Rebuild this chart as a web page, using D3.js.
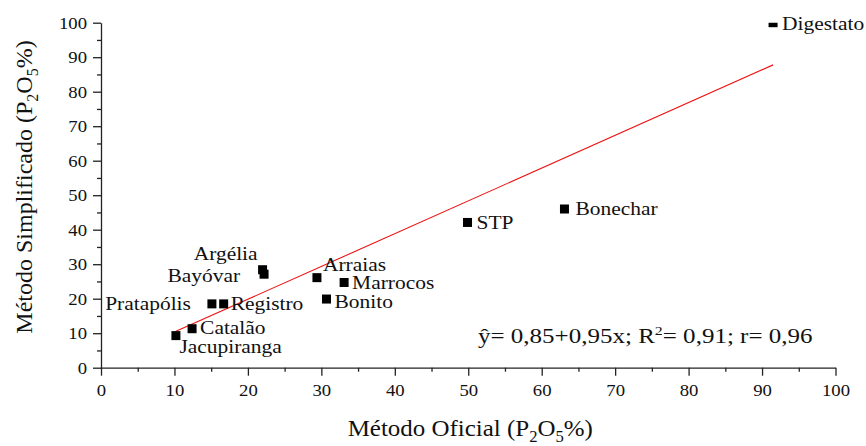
<!DOCTYPE html>
<html>
<head>
<meta charset="utf-8">
<script src="https://cdn.jsdelivr.net/npm/d3@7"></script>
<style>
  html, body { margin: 0; padding: 0; background: #fff; }
  svg { display: block; }
  text { font-family: "Liberation Serif", "Times New Roman", serif; fill: #111; }
</style>
</head>
<body>
<svg id="chart" width="866" height="446"></svg>
<script>
// Phosphate sources: official vs simplified method (P2O5 %)
const sources = ["Digestato", "Bonechar", "STP", "Arraias", "Marrocos", "Bonito",
                 "Argélia", "Bayóvar", "Registro", "Pratapólis", "Catalão", "Jacupiranga"];
const oficial = [91.5, 63.1, 49.9, 29.4, 33.1, 30.7, 22.0, 22.2, 16.7, 15.1, 12.4, 10.2];
const simplificado = [100, 46.0, 42.1, 26.1, 24.7, 19.9, 28.4, 27.1, 18.5, 18.5, 11.3, 9.3];

// Regression y = a + b x, drawn across the observed x range
const intercept = 0.85;
const slope = 0.95;
const r2 = 0.91;
const rCoef = 0.96;

const xTicks = [0, 10, 20, 30, 40, 50, 60, 70, 80, 90, 100];
const yTicks = [0, 10, 20, 30, 40, 50, 60, 70, 80, 90, 100];

// label placement around each marker: [anchor, dx, dy]
const labelPlace = {
  "Digestato":   ["start", 9, 1],
  "Bonechar":    ["start", 11, 0],
  "STP":         ["start", 9, 0],
  "Arraias":     ["start", 6, -13],
  "Marrocos":    ["start", 8, 0.5],
  "Bonito":      ["start", 8, 3],
  "Argélia":     ["end", -5, -16],
  "Bayóvar":     ["end", -24, 1],
  "Registro":    ["start", 7, 0],
  "Pratapólis":  ["end", -21, 0],
  "Catalão":     ["start", 8, -1.5],
  "Jacupiranga": ["start", 3.5, 11]
};

const svg = d3.select("#chart");
const pLeft = 101, pRight = 835.5, pTop = 22.7, pBottom = 367.7;
const x = d3.scaleLinear().domain([0, 100]).range([pLeft, pRight]);
const y = d3.scaleLinear().domain([0, 100]).range([pBottom, pTop]);

const SX = 1.1;           // slightly wide lettering
const axisColor = "#222";

// ---- axes ----
const minorX = d3.range(5, 100, 10);
const minorY = d3.range(5, 100, 10);

const gx = svg.append("g").attr("transform", `translate(0,${pBottom})`);
gx.call(d3.axisBottom(x).tickValues(xTicks).tickSize(8).tickSizeOuter(0).tickPadding(6)
  .tickFormat(d3.format("d")));
gx.append("g").call(d3.axisBottom(x).tickValues(minorX).tickSize(4).tickFormat(""))
  .select(".domain").remove();

const gy = svg.append("g").attr("transform", `translate(${pLeft},0)`);
gy.call(d3.axisLeft(y).tickValues(yTicks).tickSize(8).tickSizeOuter(0).tickPadding(6)
  .tickFormat(d3.format("d")));
gy.append("g").call(d3.axisLeft(y).tickValues(minorY).tickSize(4).tickFormat(""))
  .select(".domain").remove();

svg.selectAll(".domain, .tick line").attr("stroke", axisColor).attr("stroke-width", 1.3);
gx.selectAll(".tick text")
  .attr("font-family", "Liberation Serif").attr("font-size", 17).attr("fill", "#111")
  .attr("y", 0).attr("dy", 0)
  .attr("transform", `translate(0,28) scale(${SX},1)`);
gy.selectAll(".tick text")
  .attr("font-family", "Liberation Serif").attr("font-size", 17).attr("fill", "#111")
  .attr("x", 0).attr("dy", "0.34em")
  .attr("transform", `translate(-14,0) scale(${SX},1)`);

// ---- axis titles ----
const xt = svg.append("text")
  .attr("transform", `translate(${(pLeft + pRight) / 2 + 2},436) scale(1.04,1)`)
  .attr("text-anchor", "middle").attr("font-size", 24);
xt.append("tspan").text("Método Oficial (P");
xt.append("tspan").attr("font-size", 16).attr("dy", 6).text("2");
xt.append("tspan").attr("dy", -6).text("O");
xt.append("tspan").attr("font-size", 16).attr("dy", 6).text("5");
xt.append("tspan").attr("dy", -6).text("%)");

const yt = svg.append("text")
  .attr("transform", `translate(32,187) rotate(-90)`)
  .attr("text-anchor", "middle").attr("font-size", 24);
yt.append("tspan").text("Método Simplificado (P");
yt.append("tspan").attr("font-size", 16).attr("dy", 6).text("2");
yt.append("tspan").attr("dy", -6).text("O");
yt.append("tspan").attr("font-size", 16).attr("dy", 6).text("5");
yt.append("tspan").attr("dy", -6).text("%)");

// ---- regression line ----
const xMin = d3.min(oficial), xMax = d3.max(oficial);
svg.append("line")
  .attr("x1", x(xMin)).attr("y1", y(intercept + slope * xMin))
  .attr("x2", x(xMax)).attr("y2", y(intercept + slope * xMax))
  .attr("stroke", "#ee1111").attr("stroke-width", 1.1);

// ---- markers (clipped to the plot frame) ----
svg.append("clipPath").attr("id", "plotClip")
  .append("rect").attr("x", pLeft).attr("y", pTop)
  .attr("width", pRight - pLeft + 20).attr("height", pBottom - pTop);

const pts = sources.map((s, i) => ({ name: s, xv: oficial[i], yv: simplificado[i] }));
const M = 9;
svg.append("g").attr("clip-path", "url(#plotClip)")
  .selectAll("rect").data(pts).join("rect")
  .attr("x", d => x(d.xv) - M / 2).attr("y", d => y(d.yv) - M / 2)
  .attr("width", M).attr("height", M).attr("fill", "#000");

// ---- point labels ----
const LF = 19.5;
svg.append("g").selectAll("text").data(pts).join("text")
  .attr("font-size", LF)
  .attr("text-anchor", d => labelPlace[d.name][0])
  .attr("transform", d => {
    const p = labelPlace[d.name];
    return `translate(${x(d.xv) + p[1]},${y(d.yv) + p[2] + 0.33 * LF}) scale(${SX},1)`;
  })
  .text(d => d.name);

// ---- equation ----
const fmt = v => d3.format(".2f")(v).replace(".", ",");
const eq = svg.append("text")
  .attr("transform", `translate(478,342.7) scale(1.22,1)`)
  .attr("font-size", 20.5);
eq.append("tspan").text(`ŷ= ${fmt(intercept)}+${fmt(slope)}x; R`);
eq.append("tspan").attr("font-size", 13).attr("dy", -8).text("2");
eq.append("tspan").attr("dy", 8).text(`= ${fmt(r2)}; r= ${fmt(rCoef)}`);
</script>
</body>
</html>
